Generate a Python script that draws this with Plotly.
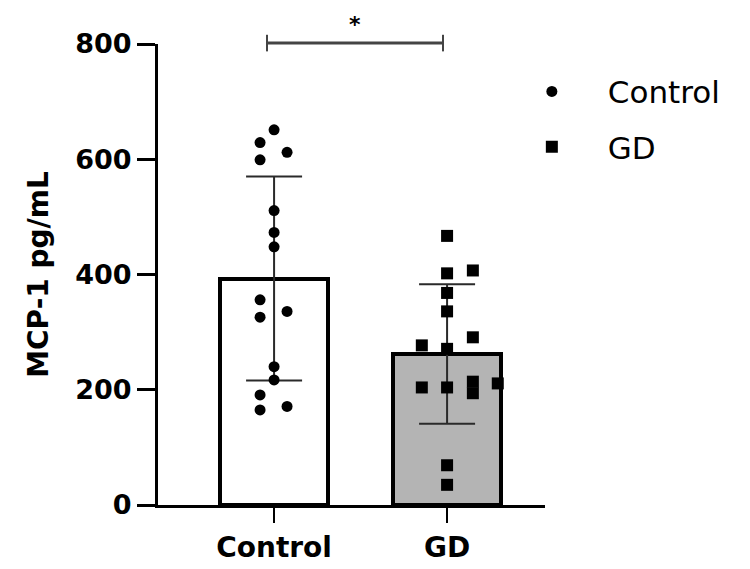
import plotly.graph_objects as go

groups = ["Control", "GD"]
group_pos = [0, 1]
means = [393, 262]
sds = [177, 121]

ctrl_values = [651, 629, 612, 599, 511, 473, 448, 356, 336, 326, 240, 217, 191, 171, 165]
ctrl_jitter = [0, -0.081, 0.075, -0.081, 0, 0, 0, -0.081, 0.075, -0.081, 0, 0, -0.081, 0.075, -0.081]
gd_values = [467, 407, 402, 368, 336, 291, 277, 271, 204, 204, 214, 194, 211, 69, 35]
gd_jitter = [0, 0.149, 0, 0, 0, 0.149, -0.146, 0, -0.146, 0, 0.149, 0.149, 0.293, 0, 0]

FONT = "DejaVu Sans"

fig = go.Figure()
fig.add_trace(go.Bar(
    x=group_pos, y=means, width=0.62,
    marker=dict(color=["white", "#b4b4b4"], line=dict(color="black", width=4)),
    error_y=dict(type="data", array=sds, visible=True, color="#2a2a2a", thickness=2, width=28),
    showlegend=False, hoverinfo="skip",
))
fig.add_trace(go.Scatter(
    x=[group_pos[0] + j for j in ctrl_jitter], y=ctrl_values, mode="markers",
    marker=dict(symbol="circle", size=11, color="black"),
    name="Control", legendgroup="a", cliponaxis=False,
))
fig.add_trace(go.Scatter(
    x=[group_pos[1] + j for j in gd_jitter], y=gd_values, mode="markers",
    marker=dict(symbol="square", size=12, color="black"),
    name="GD", legendgroup="b", cliponaxis=False,
))

# significance bracket
x0p, x1p, yp = 0.2817, 0.7364, 1.002
fig.add_shape(type="line", xref="paper", yref="paper", x0=x0p, x1=x1p, y0=yp, y1=yp,
              line=dict(color="#444444", width=3))
for xx in (x0p, x1p):
    fig.add_shape(type="line", xref="paper", yref="paper", x0=xx, x1=xx, y0=yp - 0.018, y1=yp + 0.018,
                  line=dict(color="#444444", width=2))
fig.add_annotation(xref="paper", yref="paper", x=(x0p + x1p) / 2 + 0.0, y=yp + 0.072, text="*",
                   showarrow=False, font=dict(family=FONT, size=22, color="black", weight="bold"))

fig.update_layout(
    width=750, height=569,
    margin=dict(l=158, r=205, t=44, b=64, autoexpand=False),
    plot_bgcolor="white", paper_bgcolor="white",
    bargap=0,
    legend=dict(x=0.873, y=0.955, xanchor="left", yanchor="top",
                font=dict(family=FONT, size=31, color="black"),
                itemwidth=102, tracegroupgap=12, bgcolor="rgba(0,0,0,0)"),
    xaxis=dict(range=[-0.671, 1.566], tickvals=group_pos, ticktext=groups,
               showline=True, linecolor="black", linewidth=3, automargin=False,
               ticks="outside", ticklen=15, tickwidth=2, tickcolor="black",
               tickfont=dict(family=FONT, size=28, color="black", weight="bold"),
               showgrid=False, zeroline=False),
    yaxis=dict(range=[0, 800], tickvals=[0, 200, 400, 600, 800], automargin=False,
               showline=True, linecolor="black", linewidth=3,
               ticks="outside", ticklen=18, tickwidth=3, tickcolor="black",
               tickfont=dict(family=FONT, size=27, color="black", weight="bold"),
               title=dict(text="MCP-1 pg/mL", standoff=19,
                          font=dict(family=FONT, size=28, color="black", weight="bold")),
               showgrid=False, zeroline=False),
)

fig.write_html("out.html")
